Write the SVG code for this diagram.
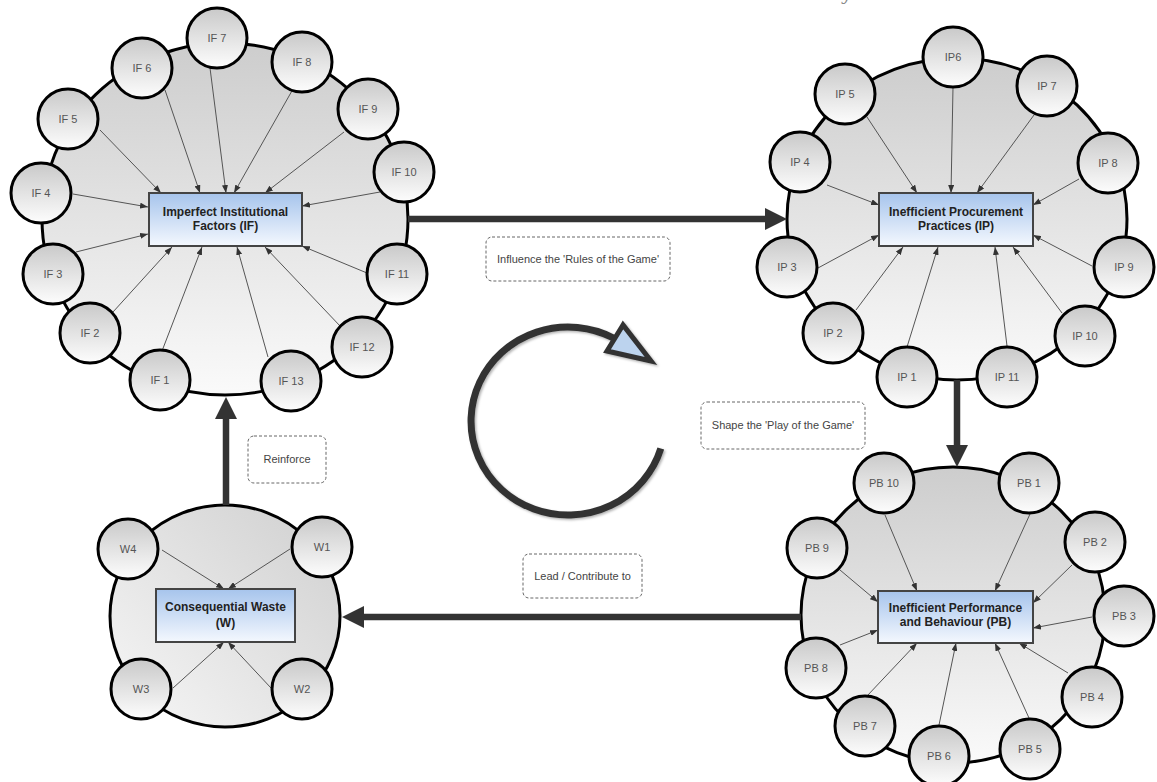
<svg xmlns="http://www.w3.org/2000/svg" width="1157" height="782" viewBox="0 0 1157 782">
  <defs>
    <linearGradient id="gBig" x1="0" y1="0" x2="0" y2="1">
      <stop offset="0" stop-color="#cdcdcd"/>
      <stop offset="1" stop-color="#fafafa"/>
    </linearGradient>
    <linearGradient id="gBigH" x1="0" y1="1" x2="1" y2="0">
      <stop offset="0" stop-color="#f7f7f7"/>
      <stop offset="1" stop-color="#cfcfcf"/>
    </linearGradient>
    <linearGradient id="gSmall" x1="0" y1="0" x2="0" y2="1">
      <stop offset="0" stop-color="#c9c9c9"/>
      <stop offset="1" stop-color="#fdfdfd"/>
    </linearGradient>
    <linearGradient id="gBox" x1="0" y1="0" x2="0" y2="1">
      <stop offset="0" stop-color="#a6c4ec"/>
      <stop offset="1" stop-color="#f4f8fe"/>
    </linearGradient>
    <marker id="ah" markerWidth="8" markerHeight="6" refX="8" refY="3" orient="auto" markerUnits="userSpaceOnUse">
      <path d="M0,0 L8,3 L0,6 z" fill="#333"/>
    </marker>
    <marker id="bigHead" markerWidth="22" markerHeight="22" refX="0" refY="11" orient="auto" markerUnits="userSpaceOnUse">
      <path d="M0,0 L22,11 L0,22 z" fill="#333"/>
    </marker>
    <filter id="soft" x="-10%" y="-10%" width="120%" height="120%">
      <feDropShadow dx="1.5" dy="1.5" stdDeviation="1.2" flood-color="#000" flood-opacity="0.3"/>
    </filter>
  </defs>
  <style>
    .big { stroke:#000; stroke-width:3; }
    .sm circle { fill:url(#gSmall); stroke:#000; stroke-width:3; }
    .sm text { font-family:"Liberation Sans", Arial, sans-serif; font-size:11px; fill:#555; text-anchor:middle; }
    .box rect { fill:url(#gBox); stroke:#444; stroke-width:2; }
    .box text { font-family:"Liberation Sans", Arial, sans-serif; font-size:12px; font-weight:bold; fill:#222; text-anchor:middle; }
    .thin line { stroke:#555; stroke-width:1; marker-end:url(#ah); }
    .thick line { stroke:#333; stroke-width:6.5; marker-end:url(#bigHead); }
    .lab rect { fill:#fff; stroke:#666; stroke-width:1; stroke-dasharray:3 2; }
    .lab text { font-family:"Liberation Sans", Arial, sans-serif; font-size:11px; fill:#444; text-anchor:middle; }
  </style>

  <rect width="1157" height="782" fill="#fff"/>

  <!-- heading, runs off the top edge -->
  <text x="592" y="-0.5" font-family="Liberation Serif, serif" font-weight="bold" font-size="17" fill="#888" text-anchor="middle" textLength="520" lengthAdjust="spacingAndGlyphs">Interactions within Waste in the Construction Industry</text>

  <!-- cluster backgrounds -->
  <g id="cluster-IF"><ellipse class="big" cx="225" cy="219" rx="183" ry="176" fill="url(#gBig)"/></g>
  <g id="cluster-IP"><ellipse class="big" cx="957" cy="219" rx="170" ry="161" fill="url(#gBig)"/></g>
  <g id="cluster-PB"><ellipse class="big" cx="953" cy="615" rx="152" ry="148" fill="url(#gBig)"/></g>
  <g id="cluster-W"><ellipse class="big" cx="225" cy="616" rx="115" ry="111" fill="url(#gBigH)"/></g>

  <!-- connectors -->
  <g id="connectors">
    <g class="thin">
      <!-- IF -->
      <line x1="162" y1="351" x2="202" y2="247"/>
      <line x1="113" y1="312" x2="172" y2="247"/>
      <line x1="76" y1="252" x2="148" y2="234"/>
      <line x1="73" y1="194" x2="148" y2="207"/>
      <line x1="100" y1="130" x2="161" y2="193"/>
      <line x1="165" y1="90" x2="200" y2="193"/>
      <line x1="210" y1="68" x2="226" y2="193"/>
      <line x1="293" y1="89" x2="234" y2="193"/>
      <line x1="344" y1="132" x2="265" y2="193"/>
      <line x1="380" y1="192" x2="302" y2="206"/>
      <line x1="367" y1="273" x2="302" y2="246"/>
      <line x1="341" y1="327" x2="265" y2="247"/>
      <line x1="268" y1="357" x2="237" y2="247"/>
      <!-- IP -->
      <line x1="907" y1="347" x2="938" y2="247"/>
      <line x1="856" y1="310" x2="903" y2="247"/>
      <line x1="818" y1="268" x2="879" y2="235"/>
      <line x1="827" y1="185" x2="879" y2="205"/>
      <line x1="867" y1="117" x2="917" y2="193"/>
      <line x1="953" y1="87" x2="951" y2="193"/>
      <line x1="1034" y1="115" x2="977" y2="193"/>
      <line x1="1079" y1="179" x2="1033" y2="205"/>
      <line x1="1092" y1="266" x2="1033" y2="235"/>
      <line x1="1062" y1="313" x2="1013" y2="247"/>
      <line x1="1007" y1="346" x2="995" y2="247"/>
      <!-- PB -->
      <line x1="1030" y1="514" x2="995" y2="591"/>
      <line x1="1072" y1="565" x2="1033" y2="603"/>
      <line x1="1092" y1="617" x2="1033" y2="628"/>
      <line x1="1068" y1="673" x2="1019" y2="643"/>
      <line x1="1029" y1="718" x2="995" y2="643"/>
      <line x1="939" y1="725" x2="956" y2="643"/>
      <line x1="867" y1="696" x2="917" y2="643"/>
      <line x1="840" y1="645" x2="878" y2="630"/>
      <line x1="840" y1="570" x2="878" y2="602"/>
      <line x1="885" y1="515" x2="917" y2="591"/>
      <!-- W -->
      <line x1="290" y1="549" x2="228" y2="589"/>
      <line x1="271" y1="688" x2="228" y2="642"/>
      <line x1="173" y1="688" x2="224" y2="642"/>
      <line x1="162" y1="550" x2="224" y2="589"/>
    </g>
    <g class="thick">
      <line x1="408" y1="219" x2="765" y2="219"/>
      <line x1="957" y1="380" x2="957" y2="445"/>
      <line x1="801" y1="617" x2="364" y2="617"/>
      <line x1="226" y1="505" x2="226" y2="419"/>
    </g>
  </g>

  <!-- central boxes -->
  <g id="IF" class="box"><rect x="149" y="193" width="153" height="53"/><text x="225.5" y="216">Imperfect Institutional</text><text x="225.5" y="230">Factors (IF)</text></g>
  <g id="IP" class="box"><rect x="879" y="193" width="154" height="53"/><text x="956" y="216">Inefficient Procurement</text><text x="956" y="230">Practices (IP)</text></g>
  <g id="PB" class="box"><rect x="878" y="591" width="155" height="52"/><text x="955.5" y="612">Inefficient Performance</text><text x="955.5" y="626">and Behaviour (PB)</text></g>
  <g id="W" class="box"><rect x="156" y="589" width="139" height="53"/><text x="225.5" y="611">Consequential Waste</text><text x="225.5" y="627">(W)</text></g>

  <!-- IF factors -->
  <g id="IF1" class="sm"><circle cx="160" cy="380" r="30"/><text x="160" y="384">IF 1</text></g>
  <g id="IF2" class="sm"><circle cx="90" cy="333" r="30"/><text x="90" y="337">IF 2</text></g>
  <g id="IF3" class="sm"><circle cx="53" cy="274" r="30"/><text x="53" y="278">IF 3</text></g>
  <g id="IF4" class="sm"><circle cx="41" cy="193" r="30"/><text x="41" y="197">IF 4</text></g>
  <g id="IF5" class="sm"><circle cx="68" cy="119" r="30"/><text x="68" y="123">IF 5</text></g>
  <g id="IF6" class="sm"><circle cx="142" cy="68" r="30"/><text x="142" y="72">IF 6</text></g>
  <g id="IF7" class="sm"><circle cx="217" cy="38" r="30"/><text x="217" y="42">IF 7</text></g>
  <g id="IF8" class="sm"><circle cx="302" cy="62" r="30"/><text x="302" y="66">IF 8</text></g>
  <g id="IF9" class="sm"><circle cx="368" cy="109" r="30"/><text x="368" y="113">IF 9</text></g>
  <g id="IF10" class="sm"><circle cx="404" cy="172" r="30"/><text x="404" y="176">IF 10</text></g>
  <g id="IF11" class="sm"><circle cx="397" cy="274" r="30"/><text x="397" y="278">IF 11</text></g>
  <g id="IF12" class="sm"><circle cx="362" cy="347" r="30"/><text x="362" y="351">IF 12</text></g>
  <g id="IF13" class="sm"><circle cx="291" cy="381" r="30"/><text x="291" y="385">IF 13</text></g>

  <!-- IP practices -->
  <g id="IP1" class="sm"><circle cx="907" cy="377" r="30"/><text x="907" y="381">IP 1</text></g>
  <g id="IP2" class="sm"><circle cx="833" cy="333" r="30"/><text x="833" y="337">IP 2</text></g>
  <g id="IP3" class="sm"><circle cx="787" cy="267" r="30"/><text x="787" y="271">IP 3</text></g>
  <g id="IP4" class="sm"><circle cx="800" cy="162" r="30"/><text x="800" y="166">IP 4</text></g>
  <g id="IP5" class="sm"><circle cx="845" cy="94" r="30"/><text x="845" y="98">IP 5</text></g>
  <g id="IP6" class="sm"><circle cx="953" cy="57" r="30"/><text x="953" y="61">IP6</text></g>
  <g id="IP7" class="sm"><circle cx="1047" cy="86" r="30"/><text x="1047" y="90">IP 7</text></g>
  <g id="IP8" class="sm"><circle cx="1108" cy="163" r="30"/><text x="1108" y="167">IP 8</text></g>
  <g id="IP9" class="sm"><circle cx="1124" cy="267" r="30"/><text x="1124" y="271">IP 9</text></g>
  <g id="IP10" class="sm"><circle cx="1085" cy="336" r="30"/><text x="1085" y="340">IP 10</text></g>
  <g id="IP11" class="sm"><circle cx="1007" cy="377" r="30"/><text x="1007" y="381">IP 11</text></g>

  <!-- PB behaviours -->
  <g id="PB1" class="sm"><circle cx="1029" cy="483" r="30"/><text x="1029" y="487">PB 1</text></g>
  <g id="PB2" class="sm"><circle cx="1095" cy="542" r="30"/><text x="1095" y="546">PB 2</text></g>
  <g id="PB3" class="sm"><circle cx="1124" cy="616" r="30"/><text x="1124" y="620">PB 3</text></g>
  <g id="PB4" class="sm"><circle cx="1092" cy="697" r="30"/><text x="1092" y="701">PB 4</text></g>
  <g id="PB5" class="sm"><circle cx="1030" cy="749" r="30"/><text x="1030" y="753">PB 5</text></g>
  <g id="PB6" class="sm"><circle cx="939" cy="756" r="30"/><text x="939" y="760">PB 6</text></g>
  <g id="PB7" class="sm"><circle cx="865" cy="726" r="30"/><text x="865" y="730">PB 7</text></g>
  <g id="PB8" class="sm"><circle cx="816" cy="668" r="30"/><text x="816" y="672">PB 8</text></g>
  <g id="PB9" class="sm"><circle cx="817" cy="548" r="30"/><text x="817" y="552">PB 9</text></g>
  <g id="PB10" class="sm"><circle cx="884" cy="483" r="30"/><text x="884" y="487">PB 10</text></g>

  <!-- W wastes -->
  <g id="W1" class="sm"><circle cx="322" cy="547" r="30"/><text x="322" y="551">W1</text></g>
  <g id="W2" class="sm"><circle cx="302" cy="689" r="30"/><text x="302" y="693">W2</text></g>
  <g id="W3" class="sm"><circle cx="141" cy="689" r="30"/><text x="141" y="693">W3</text></g>
  <g id="W4" class="sm"><circle cx="128" cy="549" r="30"/><text x="128" y="553">W4</text></g>

  <!-- relation labels -->
  <g id="label-rules" class="lab"><rect x="486" y="237" width="184" height="44" rx="6"/><text x="578" y="263">Influence the 'Rules of the Game'</text></g>
  <g id="label-play" class="lab"><rect x="701" y="402" width="164" height="47" rx="6"/><text x="783" y="429">Shape the 'Play of the Game'</text></g>
  <g id="label-lead" class="lab"><rect x="523" y="554" width="119" height="44" rx="6"/><text x="582.5" y="580">Lead / Contribute to</text></g>
  <g id="label-reinforce" class="lab"><rect x="248" y="436" width="78" height="47" rx="6"/><text x="287" y="463">Reinforce</text></g>

  <!-- cycle symbol in the middle -->
  <g id="cycle" filter="url(#soft)">
    <path d="M660.8,448.5 A97,94 0 1 1 613.5,338" fill="none" stroke="#333" stroke-width="7"/>
    <polygon points="623,325 607,351 651,361" fill="#bcd3ee" stroke="#333" stroke-width="5" stroke-linejoin="miter"/>
  </g>
</svg>
